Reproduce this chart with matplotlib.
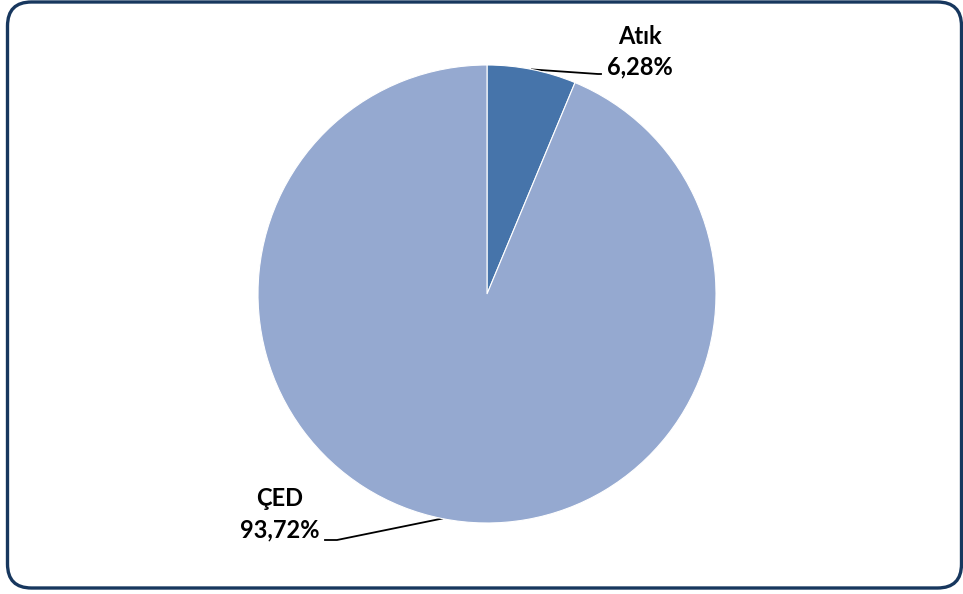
import numpy as np
import matplotlib
matplotlib.use("Agg")
import matplotlib.pyplot as plt
from matplotlib.patches import FancyBboxPatch
from matplotlib.lines import Line2D

categories = ["Atık", "ÇED"]
values = [6.28, 93.72]
value_labels = ["6,28%", "93,72%"]
colors = ["#4674AA", "#95A9D0"]

W, H = 963, 594
fig = plt.figure(figsize=(W / 100, H / 100), dpi=100)
fig.patch.set_facecolor("white")

ax = fig.add_axes([0, 0, 1, 1])
ax.set_xlim(0, W)
ax.set_ylim(H, 0)
ax.axis("off")

# border (pixel coordinates)
border = FancyBboxPatch((7.5, 2.0), 954, 586,
                        boxstyle="round,pad=0,rounding_size=24",
                        facecolor="none", edgecolor="#17375E", linewidth=2.4)
ax.add_patch(border)

cx, cy, r = 487, 294, 229
pax = fig.add_axes([(cx - r) / W, (H - cy - r) / H, 2 * r / W, 2 * r / H])
wedges, _ = pax.pie(values, colors=colors, startangle=90, counterclock=False,
                    wedgeprops=dict(edgecolor="white", linewidth=0.8), radius=1)
pax.set_xlim(-1, 1)
pax.set_ylim(-1, 1)
pax.set_aspect("auto")
pax.axis("off")

font = dict(family=["Lato", "DejaVu Sans"], fontweight="bold", fontsize=17, color="black")

label_pos = [(640, 36, 598, 74, 601), (280, 499, 337, 540, 325)]
cum = 0
for i, (cat, v) in enumerate(zip(categories, values)):
    mid = 90 - (cum + v / 2) * 3.6
    cum += v
    sx = cx + r * np.cos(np.radians(mid))
    sy = cy - r * np.sin(np.radians(mid))
    tx, ty, ex, ey, hx = label_pos[i]
    ax.add_line(Line2D([sx, ex, hx], [sy, ey, ey], color="black", lw=1.3))
    ax.text(tx, ty, cat, ha="center", va="center", **font)
    ax.text(tx, ty + 31, value_labels[i], ha="center", va="center", **font)

fig.savefig("out.png", dpi=100)
